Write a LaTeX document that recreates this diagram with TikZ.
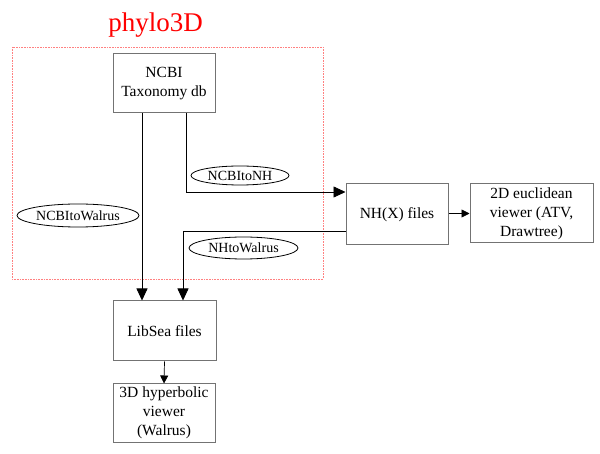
\documentclass[tikz,border=0pt]{standalone}
\usepackage{fontspec}
\setmainfont{Liberation Serif}
\usetikzlibrary{arrows.meta,shapes.geometric}

\begin{document}
\begin{tikzpicture}[x=1pt,y=-1pt,
  box/.style={rectangle,draw=black!55,line width=1pt,fill=white,align=center,
    inner sep=0,font=\fontsize{15.5}{19}\selectfont},
  tool/.style={ellipse,draw,line width=.8pt,inner sep=0,
    font=\fontsize{14}{16}\selectfont},
  big/.style={-{Triangle[length=12pt,width=11pt]},line width=.7pt},
  small/.style={-{Triangle[length=8pt,width=8pt]},line width=.7pt}]
  \useasboundingbox (0,0) rectangle (600,454);
  \draw[red!50,densely dotted,line width=.6pt] (12,47) rectangle (323,279);
  \node[text=red,font=\fontsize{27}{30}\selectfont] (title) at (155.5,25) {phylo3D};

  \foreach \name/\x/\y/\w/\h/\txt in {
    ncbi/164/83.5/102/59/{NCBI\\Taxonomy db},
    libsea/164.5/331/103/60/{LibSea files},
    hyper/164/413/102/58/{3D hyperbolic\\viewer\\(Walrus)},
    nh/397/214.5/102/61/{NH(X) files},
    euc/531.5/213.5/123/59/{2D euclidean\\viewer (ATV,\\Drawtree)}}
    \node[box,minimum width=\w pt,minimum height=\h pt] (\name) at (\x,\y) {\txt};

  \foreach \name/\x/\y/\w/\h/\txt in {
    ncbitonh/240/175.5/98/19/NCBItoNH,
    ncbitowalrus/78/215.5/122/23/NCBItoWalrus,
    nhtowalrus/243.5/248/109/22/NHtoWalrus}
    \node[tool,minimum width=\w pt,minimum height=\h pt] (\name) at (\x,\y) {\txt};

  \draw[big] ([xshift=-22pt]ncbi.south) -- ([xshift=-22pt]ncbi.south |- libsea.north);
  \draw[big] ([xshift=22pt]ncbi.south) |- ([yshift=22.5pt]nh.west);
  \draw[big] ([yshift=-16.5pt]nh.west) -| ([xshift=18.5pt]libsea.north);
  \draw[small] (nh.east |- euc.west) -- (euc.west);
  \draw[small] (libsea.south) -- (hyper.north);
\end{tikzpicture}
\end{document}
